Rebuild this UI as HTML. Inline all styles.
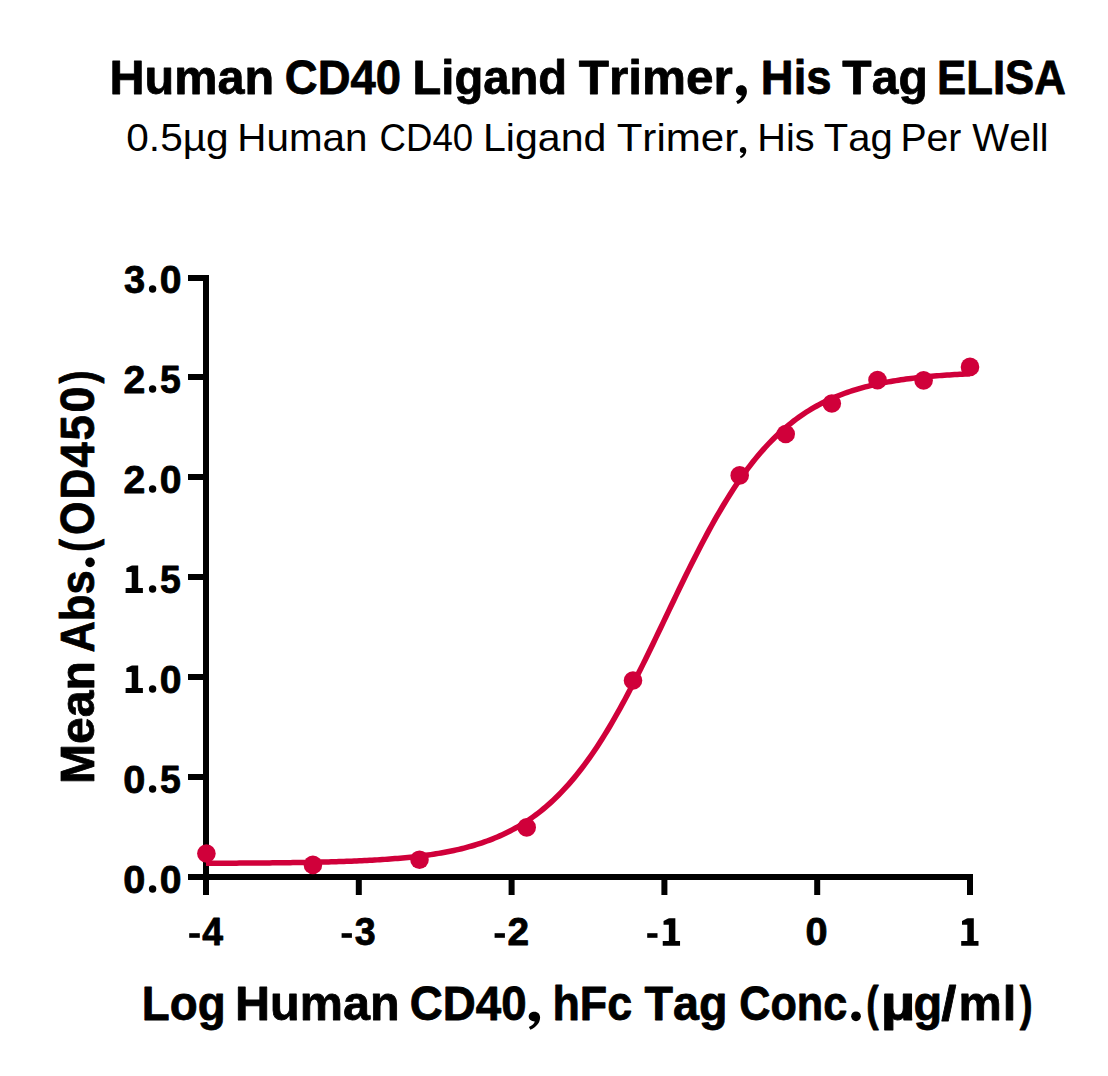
<!DOCTYPE html>
<html><head><meta charset="utf-8"><style>
html,body{margin:0;padding:0;background:#fff;}
svg{display:block;font-family:"Liberation Sans",sans-serif;}
text{fill:#000;font-kerning:none;font-variant-ligatures:none;}
text.b{stroke:#000;stroke-width:0.8px;stroke-linejoin:round;}
</style></head><body>
<svg width="1108" height="1076" viewBox="0 0 1108 1076">
<rect width="1108" height="1076" fill="#fff"/>
<text class="b" x="109.55" y="93.8" font-size="49" font-weight="bold" textLength="164.56" lengthAdjust="spacingAndGlyphs">Human</text>
<text class="b" x="284.84" y="93.8" font-size="49" font-weight="bold" textLength="116.23" lengthAdjust="spacingAndGlyphs">CD40</text>
<text class="b" x="412.55" y="93.8" font-size="49" font-weight="bold" textLength="154.46" lengthAdjust="spacingAndGlyphs">Ligand</text>
<text class="b" x="578.84" y="93.8" font-size="49" font-weight="bold" textLength="154.00" lengthAdjust="spacingAndGlyphs">Trimer</text>
<text class="b" x="760.86" y="93.8" font-size="49" font-weight="bold" textLength="70.70" lengthAdjust="spacingAndGlyphs">His</text>
<text class="b" x="842.36" y="93.8" font-size="49" font-weight="bold" textLength="85.35" lengthAdjust="spacingAndGlyphs">Tag</text>
<text class="b" x="936.97" y="93.8" font-size="49" font-weight="bold" textLength="128.98" lengthAdjust="spacingAndGlyphs">ELISA</text>
<text x="126.32" y="151.2" font-size="39.5" font-weight="normal" textLength="102.30" lengthAdjust="spacingAndGlyphs">0.5µg</text>
<text x="237.39" y="151.2" font-size="39.5" font-weight="normal" textLength="130.03" lengthAdjust="spacingAndGlyphs">Human</text>
<text x="379.54" y="151.2" font-size="39.5" font-weight="normal" textLength="93.59" lengthAdjust="spacingAndGlyphs">CD40</text>
<text x="483.03" y="151.2" font-size="39.5" font-weight="normal" textLength="123.32" lengthAdjust="spacingAndGlyphs">Ligand</text>
<text x="616.65" y="151.2" font-size="39.5" font-weight="normal" textLength="121.65" lengthAdjust="spacingAndGlyphs">Trimer</text>
<text x="757.35" y="151.2" font-size="39.5" font-weight="normal" textLength="57.29" lengthAdjust="spacingAndGlyphs">His</text>
<text x="823.80" y="151.2" font-size="39.5" font-weight="normal" textLength="68.87" lengthAdjust="spacingAndGlyphs">Tag</text>
<text x="900.39" y="151.2" font-size="39.5" font-weight="normal" textLength="60.96" lengthAdjust="spacingAndGlyphs">Per</text>
<text x="972.33" y="151.2" font-size="39.5" font-weight="normal" textLength="76.09" lengthAdjust="spacingAndGlyphs">Well</text>
<text class="b" x="141.84" y="1019.6" font-size="49" font-weight="bold" textLength="83.82" lengthAdjust="spacingAndGlyphs">Log</text>
<text class="b" x="235.05" y="1019.6" font-size="49" font-weight="bold" textLength="164.56" lengthAdjust="spacingAndGlyphs">Human</text>
<text class="b" x="409.83" y="1019.6" font-size="49" font-weight="bold" textLength="116.85" lengthAdjust="spacingAndGlyphs">CD40</text>
<text class="b" x="552.47" y="1019.6" font-size="49" font-weight="bold" textLength="79.75" lengthAdjust="spacingAndGlyphs">hFc</text>
<text class="b" x="644.58" y="1019.6" font-size="49" font-weight="bold" textLength="82.94" lengthAdjust="spacingAndGlyphs">Tag</text>
<text class="b" x="739.23" y="1019.6" font-size="49" font-weight="bold" textLength="108.04" lengthAdjust="spacingAndGlyphs">Conc</text>
<text class="b" x="866.25" y="1019.6" font-size="49" font-weight="bold" textLength="12.39" lengthAdjust="spacingAndGlyphs">(</text>
<text class="b" x="880.87" y="1019.6" font-size="49" font-weight="bold" textLength="34.65" lengthAdjust="spacingAndGlyphs">µ</text>
<text class="b" x="913.48" y="1019.6" font-size="49" font-weight="bold" textLength="28.66" lengthAdjust="spacingAndGlyphs">g</text>
<text class="b" x="941.17" y="1019.6" font-size="49" font-weight="bold" textLength="15.17" lengthAdjust="spacingAndGlyphs">/</text>
<text class="b" x="958.39" y="1019.6" font-size="49" font-weight="bold" textLength="43.33" lengthAdjust="spacingAndGlyphs">m</text>
<text class="b" x="1002.79" y="1019.6" font-size="49" font-weight="bold" textLength="13.57" lengthAdjust="spacingAndGlyphs">l</text>
<text class="b" x="1019.76" y="1019.6" font-size="49" font-weight="bold" textLength="12.86" lengthAdjust="spacingAndGlyphs">)</text>
<path d="M5.7,0 C8.9,0 11.1,2.3 11.1,6.1 C11.1,11.2 7.5,16.3 1.8,18.8 L0.4,15.9 C3.6,14.3 5.6,12.2 6,10.1 C2.6,10 0.2,8.1 0.2,5.1 C0.2,2.1 2.6,0 5.7,0 Z" transform="translate(735.80,85.3) scale(1.0000,1.0000)" fill="#000"/>
<path d="M5.7,0 C8.9,0 11.1,2.3 11.1,6.1 C11.1,11.2 7.5,16.3 1.8,18.8 L0.4,15.9 C3.6,14.3 5.6,12.2 6,10.1 C2.6,10 0.2,8.1 0.2,5.1 C0.2,2.1 2.6,0 5.7,0 Z" transform="translate(739.68,147) scale(0.5963,0.6011)" fill="#000"/>
<path d="M5.7,0 C8.9,0 11.1,2.3 11.1,6.1 C11.1,11.2 7.5,16.3 1.8,18.8 L0.4,15.9 C3.6,14.3 5.6,12.2 6,10.1 C2.6,10 0.2,8.1 0.2,5.1 C0.2,2.1 2.6,0 5.7,0 Z" transform="translate(528.49,1011.7) scale(1.0459,0.9628)" fill="#000"/>
<circle cx="856" cy="1016.3" r="4.85" fill="#000"/>
<circle cx="90.05" cy="562.4" r="4.8" fill="#000"/>
<text class="b" transform="translate(94.3,0) rotate(-90)" x="-784.02" y="0" font-size="48.5" font-weight="bold" textLength="123.00" lengthAdjust="spacingAndGlyphs">Mean</text>
<text class="b" transform="translate(94.3,0) rotate(-90)" x="-652.58" y="0" font-size="48.5" font-weight="bold" textLength="82.17" lengthAdjust="spacingAndGlyphs">Abs</text>
<text class="b" transform="translate(94.3,0) rotate(-90)" x="-552.04" y="0" font-size="48.5" font-weight="bold" textLength="12.98" lengthAdjust="spacingAndGlyphs">(</text>
<text class="b" transform="translate(94.3,0) rotate(-90)" x="-534.97" y="0" font-size="48.5" font-weight="bold" textLength="33.47" lengthAdjust="spacingAndGlyphs">O</text>
<text class="b" transform="translate(94.3,0) rotate(-90)" x="-499.21" y="0" font-size="48.5" font-weight="bold" textLength="30.38" lengthAdjust="spacingAndGlyphs">D</text>
<text class="b" transform="translate(94.3,0) rotate(-90)" x="-467.48" y="0" font-size="48.5" font-weight="bold" textLength="25.13" lengthAdjust="spacingAndGlyphs">4</text>
<text class="b" transform="translate(94.3,0) rotate(-90)" x="-440.60" y="0" font-size="48.5" font-weight="bold" textLength="25.37" lengthAdjust="spacingAndGlyphs">5</text>
<text class="b" transform="translate(94.3,0) rotate(-90)" x="-412.45" y="0" font-size="48.5" font-weight="bold" textLength="25.96" lengthAdjust="spacingAndGlyphs">0</text>
<text class="b" transform="translate(94.3,0) rotate(-90)" x="-383.54" y="0" font-size="48.5" font-weight="bold" textLength="12.86" lengthAdjust="spacingAndGlyphs">)</text>
<text class="b" x="123.93" y="292.5" font-size="38" font-weight="bold" textLength="21.15" lengthAdjust="spacingAndGlyphs">3</text>
<circle cx="152.6" cy="289.00" r="3.7" fill="#000"/>
<text class="b" x="159.65" y="292.5" font-size="38" font-weight="bold" textLength="21.75" lengthAdjust="spacingAndGlyphs">0</text>
<text class="b" x="123.44" y="392.5" font-size="38" font-weight="bold" textLength="21.83" lengthAdjust="spacingAndGlyphs">2</text>
<circle cx="152.6" cy="389.00" r="3.7" fill="#000"/>
<text class="b" x="160.05" y="392.5" font-size="38" font-weight="bold" textLength="20.79" lengthAdjust="spacingAndGlyphs">5</text>
<text class="b" x="123.44" y="492.5" font-size="38" font-weight="bold" textLength="21.83" lengthAdjust="spacingAndGlyphs">2</text>
<circle cx="152.6" cy="489.00" r="3.7" fill="#000"/>
<text class="b" x="159.65" y="492.5" font-size="38" font-weight="bold" textLength="21.75" lengthAdjust="spacingAndGlyphs">0</text>
<path d="M0.8,2.7 L5.6,0.25 Q6.1,0 6.7,0 L12.6,0 L12.6,22.65 L17.3,22.65 L17.3,27.45 L0,27.45 L0,22.65 L6.1,22.65 L6.1,6.5 L0.8,6.5 Z" transform="translate(125.60,565.45)" fill="#000"/>
<circle cx="152.6" cy="589.00" r="3.7" fill="#000"/>
<text class="b" x="160.05" y="592.5" font-size="38" font-weight="bold" textLength="20.79" lengthAdjust="spacingAndGlyphs">5</text>
<path d="M0.8,2.7 L5.6,0.25 Q6.1,0 6.7,0 L12.6,0 L12.6,22.65 L17.3,22.65 L17.3,27.45 L0,27.45 L0,22.65 L6.1,22.65 L6.1,6.5 L0.8,6.5 Z" transform="translate(125.60,665.45)" fill="#000"/>
<circle cx="152.6" cy="689.00" r="3.7" fill="#000"/>
<text class="b" x="159.65" y="692.5" font-size="38" font-weight="bold" textLength="21.75" lengthAdjust="spacingAndGlyphs">0</text>
<text class="b" x="123.23" y="792.5" font-size="38" font-weight="bold" textLength="22.10" lengthAdjust="spacingAndGlyphs">0</text>
<circle cx="152.6" cy="789.00" r="3.7" fill="#000"/>
<text class="b" x="160.05" y="792.5" font-size="38" font-weight="bold" textLength="20.79" lengthAdjust="spacingAndGlyphs">5</text>
<text class="b" x="123.23" y="892.5" font-size="38" font-weight="bold" textLength="22.10" lengthAdjust="spacingAndGlyphs">0</text>
<circle cx="152.6" cy="889.00" r="3.7" fill="#000"/>
<text class="b" x="159.65" y="892.5" font-size="38" font-weight="bold" textLength="21.75" lengthAdjust="spacingAndGlyphs">0</text>
<rect x="189.2" y="933.2" width="10.6" height="4.6" fill="#000"/>
<text class="b" x="202.33" y="945.3" font-size="38" font-weight="bold" textLength="20.77" lengthAdjust="spacingAndGlyphs">4</text>
<rect x="341.6" y="933.2" width="10.3" height="4.6" fill="#000"/>
<text class="b" x="354.74" y="945.3" font-size="38" font-weight="bold" textLength="20.92" lengthAdjust="spacingAndGlyphs">3</text>
<rect x="494.6" y="933.2" width="10.3" height="4.6" fill="#000"/>
<text class="b" x="507.45" y="945.3" font-size="38" font-weight="bold" textLength="21.60" lengthAdjust="spacingAndGlyphs">2</text>
<rect x="647.2" y="933.2" width="10.3" height="4.6" fill="#000"/>
<path d="M0.8,2.7 L5.6,0.25 Q6.1,0 6.7,0 L12.6,0 L12.6,22.65 L17.3,22.65 L17.3,27.45 L0,27.45 L0,22.65 L6.1,22.65 L6.1,6.5 L0.8,6.5 Z" transform="translate(662.75,918.25)" fill="#000"/>
<text class="b" x="805.63" y="945.3" font-size="38" font-weight="bold" textLength="22.10" lengthAdjust="spacingAndGlyphs">0</text>
<path d="M0.8,2.7 L5.6,0.25 Q6.1,0 6.7,0 L12.6,0 L12.6,22.65 L17.3,22.65 L17.3,27.45 L0,27.45 L0,22.65 L6.1,22.65 L6.1,6.5 L0.8,6.5 Z" transform="translate(961.20,918.25)" fill="#000"/>
<rect x="203" y="275" width="6" height="620" fill="#000"/>
<rect x="188" y="874" width="785" height="6" fill="#000"/>
<rect x="188" y="874" width="18" height="6" fill="#000"/>
<rect x="188" y="774" width="18" height="6" fill="#000"/>
<rect x="188" y="674" width="18" height="6" fill="#000"/>
<rect x="188" y="574" width="18" height="6" fill="#000"/>
<rect x="188" y="474" width="18" height="6" fill="#000"/>
<rect x="188" y="374" width="18" height="6" fill="#000"/>
<rect x="188" y="275" width="18" height="6" fill="#000"/>
<rect x="355.8" y="877" width="6" height="18" fill="#000"/>
<rect x="508.6" y="877" width="6" height="18" fill="#000"/>
<rect x="661.4" y="877" width="6" height="18" fill="#000"/>
<rect x="814.2" y="877" width="6" height="18" fill="#000"/>
<rect x="967.0" y="877" width="6" height="18" fill="#000"/>
<path d="M206.00,863.27 L208.56,863.26 L211.11,863.25 L213.67,863.24 L216.22,863.23 L218.78,863.22 L221.33,863.21 L223.89,863.20 L226.44,863.19 L229.00,863.18 L231.55,863.16 L234.11,863.15 L236.66,863.14 L239.22,863.12 L241.77,863.11 L244.33,863.09 L246.88,863.07 L249.44,863.05 L251.99,863.04 L254.55,863.02 L257.10,863.00 L259.66,862.98 L262.21,862.96 L264.77,862.93 L267.32,862.91 L269.88,862.88 L272.43,862.86 L274.99,862.83 L277.55,862.80 L280.10,862.77 L282.66,862.74 L285.21,862.71 L287.77,862.68 L290.32,862.64 L292.88,862.61 L295.43,862.57 L297.99,862.53 L300.54,862.49 L303.10,862.44 L305.65,862.40 L308.21,862.35 L310.76,862.30 L313.32,862.25 L315.87,862.20 L318.43,862.14 L320.98,862.08 L323.54,862.02 L326.09,861.95 L328.65,861.89 L331.20,861.82 L333.76,861.74 L336.31,861.67 L338.87,861.59 L341.42,861.51 L343.98,861.42 L346.54,861.33 L349.09,861.23 L351.65,861.13 L354.20,861.03 L356.76,860.92 L359.31,860.81 L361.87,860.69 L364.42,860.57 L366.98,860.44 L369.53,860.31 L372.09,860.17 L374.64,860.03 L377.20,859.87 L379.75,859.71 L382.31,859.55 L384.86,859.38 L387.42,859.20 L389.97,859.01 L392.53,858.81 L395.08,858.61 L397.64,858.39 L400.19,858.17 L402.75,857.94 L405.30,857.69 L407.86,857.44 L410.41,857.18 L412.97,856.90 L415.53,856.61 L418.08,856.31 L420.64,856.00 L423.19,855.67 L425.75,855.33 L428.30,854.97 L430.86,854.60 L433.41,854.22 L435.97,853.81 L438.52,853.39 L441.08,852.95 L443.63,852.50 L446.19,852.02 L448.74,851.52 L451.30,851.01 L453.85,850.47 L456.41,849.90 L458.96,849.32 L461.52,848.71 L464.07,848.07 L466.63,847.41 L469.18,846.72 L471.74,846.00 L474.29,845.25 L476.85,844.48 L479.40,843.66 L481.96,842.82 L484.52,841.94 L487.07,841.03 L489.63,840.08 L492.18,839.09 L494.74,838.06 L497.29,836.99 L499.85,835.88 L502.40,834.73 L504.96,833.53 L507.51,832.28 L510.07,830.98 L512.62,829.64 L515.18,828.24 L517.73,826.79 L520.29,825.29 L522.84,823.72 L525.40,822.11 L527.95,820.43 L530.51,818.69 L533.06,816.88 L535.62,815.02 L538.17,813.08 L540.73,811.08 L543.28,809.01 L545.84,806.86 L548.39,804.65 L550.95,802.35 L553.51,799.99 L556.06,797.54 L558.62,795.02 L561.17,792.41 L563.73,789.72 L566.28,786.95 L568.84,784.10 L571.39,781.16 L573.95,778.13 L576.50,775.02 L579.06,771.82 L581.61,768.53 L584.17,765.15 L586.72,761.68 L589.28,758.12 L591.83,754.47 L594.39,750.73 L596.94,746.91 L599.50,742.99 L602.05,738.99 L604.61,734.90 L607.16,730.72 L609.72,726.46 L612.27,722.11 L614.83,717.69 L617.38,713.18 L619.94,708.60 L622.49,703.94 L625.05,699.21 L627.61,694.42 L630.16,689.55 L632.72,684.63 L635.27,679.64 L637.83,674.60 L640.38,669.51 L642.94,664.37 L645.49,659.19 L648.05,653.97 L650.60,648.71 L653.16,643.43 L655.71,638.12 L658.27,632.80 L660.82,627.45 L663.38,622.10 L665.93,616.74 L668.49,611.39 L671.04,606.04 L673.60,600.70 L676.15,595.37 L678.71,590.07 L681.26,584.79 L683.82,579.54 L686.37,574.33 L688.93,569.15 L691.48,564.02 L694.04,558.94 L696.60,553.91 L699.15,548.94 L701.71,544.02 L704.26,539.17 L706.82,534.38 L709.37,529.67 L711.93,525.03 L714.48,520.46 L717.04,515.97 L719.59,511.56 L722.15,507.23 L724.70,502.98 L727.26,498.82 L729.81,494.75 L732.37,490.76 L734.92,486.86 L737.48,483.05 L740.03,479.33 L742.59,475.69 L745.14,472.15 L747.70,468.70 L750.25,465.34 L752.81,462.06 L755.36,458.88 L757.92,455.78 L760.47,452.77 L763.03,449.85 L765.59,447.01 L768.14,444.25 L770.70,441.58 L773.25,438.99 L775.81,436.48 L778.36,434.05 L780.92,431.70 L783.47,429.42 L786.03,427.22 L788.58,425.09 L791.14,423.03 L793.69,421.04 L796.25,419.11 L798.80,417.26 L801.36,415.47 L803.91,413.74 L806.47,412.07 L809.02,410.46 L811.58,408.91 L814.13,407.42 L816.69,405.98 L819.24,404.59 L821.80,403.25 L824.35,401.97 L826.91,400.73 L829.46,399.54 L832.02,398.39 L834.58,397.29 L837.13,396.22 L839.69,395.20 L842.24,394.22 L844.80,393.28 L847.35,392.37 L849.91,391.50 L852.46,390.66 L855.02,389.86 L857.57,389.09 L860.13,388.34 L862.68,387.63 L865.24,386.95 L867.79,386.29 L870.35,385.66 L872.90,385.05 L875.46,384.47 L878.01,383.91 L880.57,383.38 L883.12,382.86 L885.68,382.37 L888.23,381.90 L890.79,381.44 L893.34,381.01 L895.90,380.59 L898.45,380.19 L901.01,379.81 L903.57,379.44 L906.12,379.09 L908.68,378.75 L911.23,378.42 L913.79,378.11 L916.34,377.81 L918.90,377.53 L921.45,377.25 L924.01,376.99 L926.56,376.74 L929.12,376.50 L931.67,376.27 L934.23,376.05 L936.78,375.84 L939.34,375.63 L941.89,375.44 L944.45,375.25 L947.00,375.07 L949.56,374.90 L952.11,374.74 L954.67,374.58 L957.22,374.43 L959.78,374.28 L962.33,374.15 L964.89,374.01 L967.44,373.89 L970.00,373.76" fill="none" stroke="#d0003a" stroke-width="5.5" stroke-linejoin="round"/>
<circle cx="206.4" cy="853.5" r="9.3" fill="#d0003a"/>
<circle cx="312.9" cy="864.9" r="9.3" fill="#d0003a"/>
<circle cx="419.5" cy="859.7" r="9.3" fill="#d0003a"/>
<circle cx="526.7" cy="827.4" r="9.3" fill="#d0003a"/>
<circle cx="633" cy="680.5" r="9.3" fill="#d0003a"/>
<circle cx="739.7" cy="475.4" r="9.3" fill="#d0003a"/>
<circle cx="785.7" cy="434" r="9.3" fill="#d0003a"/>
<circle cx="831.8" cy="403.5" r="9.3" fill="#d0003a"/>
<circle cx="877.5" cy="380.1" r="9.3" fill="#d0003a"/>
<circle cx="923.6" cy="380.4" r="9.3" fill="#d0003a"/>
<circle cx="970" cy="366.9" r="9.3" fill="#d0003a"/>
</svg></body></html>
